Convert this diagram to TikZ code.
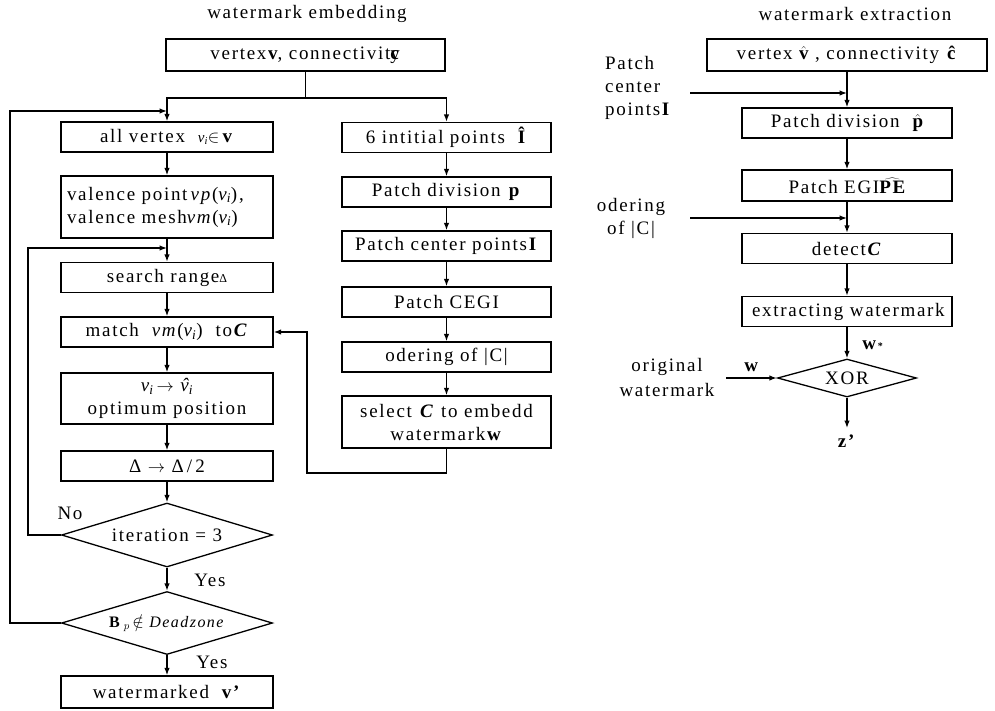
\documentclass[tikz,border=0pt]{standalone}
\usepackage{fontspec}
\setmainfont{Liberation Serif}[LetterSpace=9]
\usetikzlibrary{shapes.geometric,arrows.meta}
\newcommand{\myC}{\textbf{\textit{C}}}
\newcommand{\myvi}{{\itshape v}\textsubscript{\itshape i}}
\newcommand{\myhatvi}{{\itshape\rlap{\kern1.5pt\raisebox{0.1pt}{ˆ}}v}\textsubscript{\itshape i}}
\begin{document}
\begin{tikzpicture}[x=1pt,y=-1pt,
  every node/.style={font=\fontsize{19}{23}\selectfont, inner sep=0pt},
  box/.style={draw, line width=1.3pt, minimum height=30pt},
  lbox/.style={box, minimum width=212pt},
  rbox/.style={box, minimum width=209pt},
  ebox/.style={box, minimum width=210pt},
  dia/.style={draw, diamond, line width=1.3pt, inner sep=0pt},
  arr/.style={line width=1.3pt, -{Latex[length=7.5pt,width=5.5pt]}},
  ln/.style={line width=1.3pt}]
\useasboundingbox (0,0) rectangle (995,710);

% ---------- embedding ----------
\node (t1) at (307,14) {watermark embedding};
\node[box, minimum width=279pt, minimum height=32pt] (top1) at (305.5,55) {vertex\textbf{v}, connectivit\rlap{y}\textbf{c}};

\node[lbox] (allv) at (167,137) {all vertex \ {\fontsize{15}{17}\selectfont\myvi}$\in$\,\textbf{v}};
\node[lbox, minimum height=62pt, align=left, text width=200pt] (val) at (167,207) {valence point\,\textit{vp}(\myvi),\\valence mesh\textit{vm}(\myvi)};
\node[lbox] (sr) at (167,277.5) {search range{\fontsize{12}{12}\selectfont Δ}};
\node[lbox] (mt) at (167,332) {match \ \textit{vm}(\myvi) \ to\myC};
\node[lbox, minimum height=51pt, align=center] (vi) at (167,398.5) {\myvi\,$\rightarrow$\ \myhatvi\\optimum position};
\node[lbox] (dl) at (167,466) {Δ $\rightarrow$ Δ\,/\,2};
\node[dia, minimum width=211pt, minimum height=64pt, aspect=3.3] (it) at (167,535) {iteration = 3};
\node[dia, minimum width=211pt, minimum height=63pt, aspect=3.3] (dz) at (167,623) {\fontsize{16}{18}\selectfont\textbf{B}\,$_p$\,$\notin$\ \textit{Deadzone}};
\node[lbox, minimum height=32pt] (wm) at (167,692) {watermarked \ \textbf{v'}};

\node[rbox] (ip) at (446.5,137.5) {6 intitial points \ \textbf{Î}};
\node[rbox] (pd) at (446.5,192) {Patch division \textbf{p}};
\node[rbox] (pc) at (446.5,246) {Patch center points\textbf{I}};
\node[rbox] (pe) at (446.5,302) {Patch CEGI};
\node[rbox] (od) at (446.5,357) {odering of |C|};
\node[rbox, minimum height=52pt, align=center] (sel) at (446.5,422) {select \myC\ to embedd\\watermark\textbf{w}};

\node (no) at (70,513) {No};
\node (y1) at (210,580) {Yes};
\node (y2) at (212,662) {Yes};

\coordinate (sp) at (305.5,98);
\draw[ln] (top1.south) -- (sp);
\draw[arr] (sp) -| (allv.north);
\draw[arr] (sp) -| (ip.north);

\draw[arr] (allv) -- (val);
\draw[arr] (val) -- (sr);
\draw[arr] (sr) -- (mt);
\draw[arr] (mt) -- (vi);
\draw[arr] (vi) -- (dl);
\draw[arr] (dl) -- (it);
\draw[arr] (it) -- (dz);
\draw[arr] (dz) -- (wm);

\draw[arr] (ip) -- (pd);
\draw[arr] (pd) -- (pc);
\draw[arr] (pc) -- (pe);
\draw[arr] (pe) -- (od);
\draw[arr] (od) -- (sel);

\coordinate (j1) at (167,111);
\coordinate (lx1) at (10,623);
\draw[arr] (dz.west) -- (lx1) |- (j1);
\coordinate (j2) at (167,248);
\coordinate (lx2) at (28,535);
\draw[arr] (it.west) -- (lx2) |- (j2);

\coordinate (sb) at (446.5,473);
\coordinate (sl) at (307,473);
\coordinate (sm) at (307,332);
\draw[arr] (sel.south) -- (sb) -- (sl) -- (sm) -- (mt.east);

% ---------- extraction ----------
\node (t2) at (855,14) {watermark extraction};
\node[box, minimum width=280pt, minimum height=32pt] (top2) at (847,55) {vertex $\hat{\mathbf{v}}$ , connectivity \textbf{ĉ}};
\node[ebox] (pd2) at (847,123) {Patch division \ $\hat{\mathbf{p}}$};
\node[ebox, minimum height=31pt] (eg) at (847,185.5) {Patch EGI$\widehat{\hbox{\bfseries PE}}$};
\node[ebox] (dc) at (847,248.5) {detect\myC};
\node[ebox] (ex) at (847,311.5) {\makebox[190pt][l]{extracting watermark}};
\node[dia, minimum width=139pt, minimum height=38pt, aspect=3.66] (xor) at (847,378) {XOR};

\node[anchor=west, align=left] (pcl) at (605,88) {Patch\\center\\points\textbf{I}};
\node[align=center] (odl) at (631,218) {odering\\of |C|};
\node[align=center, font=\fontsize{19}{25}\selectfont] (owl) at (667,377) {original\\watermark};
\node (wl) at (752,367) {\textbf{w}};
\node (wsl) at (873,345) {\textbf{w}{\fontsize{10}{10}\selectfont\textbf{*}}};
\node (zl) at (847,441) {\textbf{z'}};

\coordinate (a1) at (690,93);
\coordinate (j3) at (847,93);
\coordinate (a2) at (690,218);
\coordinate (j4) at (847,218);
\coordinate (a3) at (726,378);
\coordinate (zz) at (847,428);

\draw[arr] (top2) -- (pd2);
\draw[arr] (pd2) -- (eg);
\draw[arr] (eg) -- (dc);
\draw[arr] (dc) -- (ex);
\draw[arr] (ex) -- (xor);
\draw[arr] (a1) -- (j3);
\draw[arr] (a2) -- (j4);
\draw[arr] (a3) -- (xor.west);
\draw[arr] (xor.south) -- (zz);
\end{tikzpicture}
\end{document}
